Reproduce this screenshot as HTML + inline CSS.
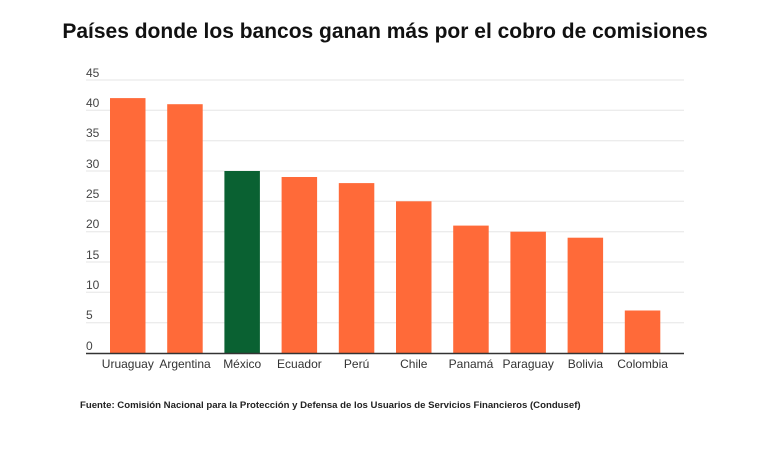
<!DOCTYPE html>
<html><head><meta charset="utf-8"><style>
body{margin:0;background:#fff;width:770px;height:470px;overflow:hidden;font-family:"Liberation Sans",sans-serif}
</style></head><body>
<svg width="770" height="470" xmlns="http://www.w3.org/2000/svg" font-family="Liberation Sans, sans-serif">
<text x="385" y="38" text-anchor="middle" font-size="21" font-weight="bold" fill="#111">Países donde los bancos ganan más por el cobro de comisiones</text>
<g stroke="#e6e6e6" stroke-width="1">
<line x1="86" x2="684" y1="80" y2="80"/><line x1="86" x2="684" y1="110.3" y2="110.3"/>
<line x1="86" x2="684" y1="140.7" y2="140.7"/><line x1="86" x2="684" y1="171" y2="171"/>
<line x1="86" x2="684" y1="201.3" y2="201.3"/><line x1="86" x2="684" y1="231.7" y2="231.7"/>
<line x1="86" x2="684" y1="262" y2="262"/><line x1="86" x2="684" y1="292.3" y2="292.3"/>
<line x1="86" x2="684" y1="322.7" y2="322.7"/>
</g>
<g font-size="12" fill="#444">
<text x="86" y="77">45</text><text x="86" y="107">40</text><text x="86" y="137">35</text>
<text x="86" y="168">30</text><text x="86" y="198">25</text><text x="86" y="228">20</text>
<text x="86" y="259">15</text><text x="86" y="289">10</text><text x="86" y="319">5</text>
<text x="86" y="350">0</text>
</g>
<g fill="#ff6a39">
<rect x="110" y="98.1" width="35.5" height="254.9"/>
<rect x="167.2" y="104.2" width="35.5" height="248.8"/>
<rect x="281.6" y="177" width="35.5" height="176"/>
<rect x="338.8" y="183.1" width="35.5" height="169.9"/>
<rect x="396" y="201.3" width="35.5" height="151.7"/>
<rect x="453.2" y="225.6" width="35.5" height="127.4"/>
<rect x="510.4" y="231.7" width="35.5" height="121.3"/>
<rect x="567.6" y="237.7" width="35.5" height="115.3"/>
<rect x="624.8" y="310.5" width="35.5" height="42.5"/>
</g>
<rect x="224.4" y="171" width="35.5" height="182" fill="#0a6132"/>
<line x1="86" x2="684" y1="353.5" y2="353.5" stroke="#333" stroke-width="1.5"/>
<g font-size="12" fill="#333" text-anchor="middle">
<text x="127.8" y="368">Uruaguay</text><text x="185" y="368">Argentina</text>
<text x="242.2" y="368">México</text><text x="299.4" y="368">Ecuador</text>
<text x="356.6" y="368">Perú</text><text x="413.8" y="368">Chile</text>
<text x="471" y="368">Panamá</text><text x="528.2" y="368">Paraguay</text>
<text x="585.4" y="368">Bolivia</text><text x="642.6" y="368">Colombia</text>
</g>
<text x="80" y="408" font-size="9.6" font-weight="bold" fill="#222">Fuente: Comisión Nacional para la Protección y Defensa de los Usuarios de Servicios Financieros (Condusef)</text>
</svg>
</body></html>
